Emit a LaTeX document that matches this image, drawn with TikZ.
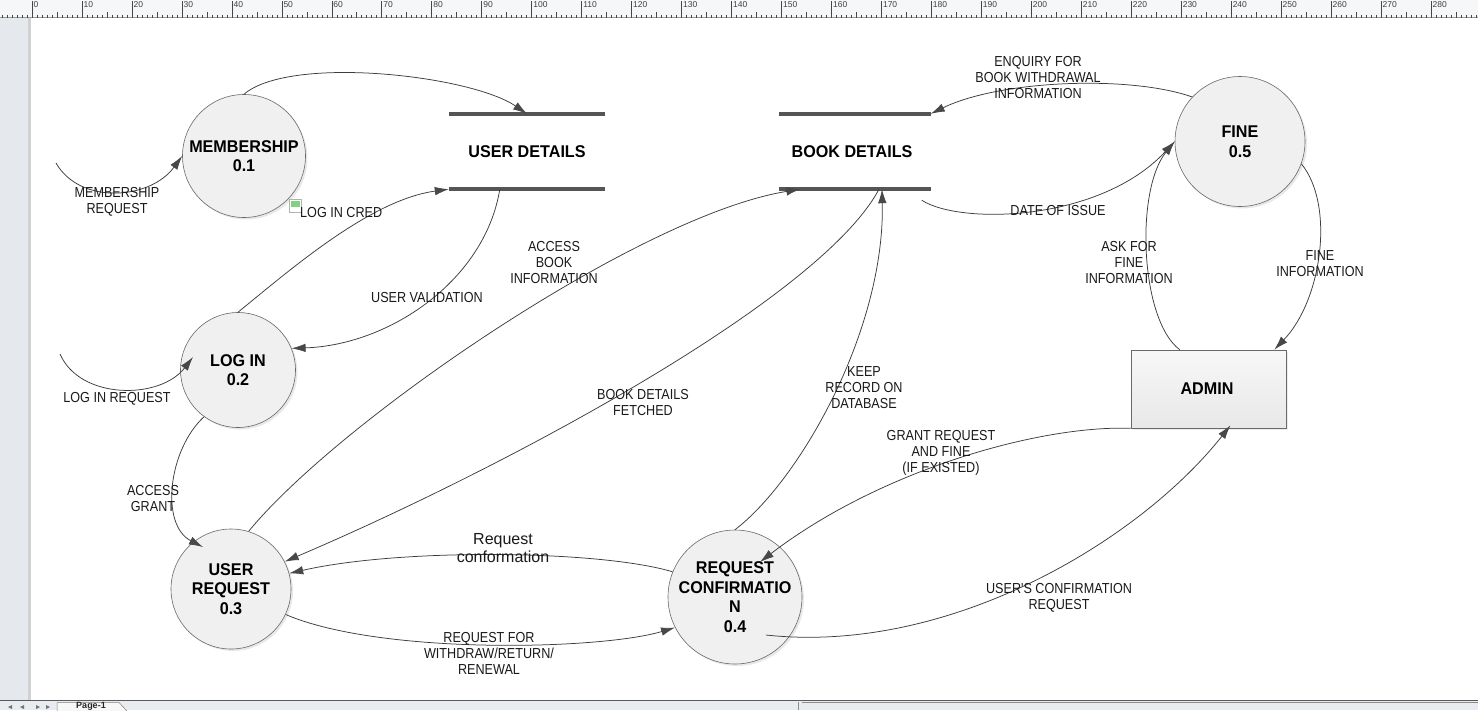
\documentclass[tikz,border=0pt]{standalone}
\usepackage{fontspec}
\setmainfont{Liberation Sans}
\newfontfamily\lblfont{Liberation Sans}[FakeStretch=0.87]
\newfontfamily\ttlfont{Liberation Sans}[FakeStretch=0.95]
\usetikzlibrary{arrows.meta,calc,shadows}
\definecolor{linecol}{RGB}{60,60,60}
\definecolor{tipcol}{RGB}{72,72,72}
\definecolor{storecol}{RGB}{85,85,85}
\definecolor{procfill}{RGB}{240,240,240}
\definecolor{procdraw}{RGB}{105,105,105}
\definecolor{rulercol}{RGB}{246,247,249}
\definecolor{leftcol}{RGB}{229,232,236}
\definecolor{botcol}{RGB}{232,235,239}
\definecolor{tickcol}{RGB}{70,70,70}
\begin{document}
\begin{tikzpicture}[x=1pt,y=-1pt,
  proc/.style={circle, draw=procdraw, line width=0.6pt, fill=procfill, inner sep=-12pt,
    minimum size=123pt, align=center,
    font=\ttlfont\bfseries\fontsize{17}{19.5}\selectfont,
    drop shadow={opacity=0.18, shadow xshift=2pt, shadow yshift=-2pt}},
  ent/.style={rectangle, draw=procdraw, line width=0.6pt, top color=white!97!black, bottom color=white!91!black,
    minimum width=155pt, minimum height=78pt, inner sep=0pt,
    font=\ttlfont\bfseries\fontsize{17}{19.5}\selectfont,
    drop shadow={opacity=0.15, shadow xshift=2pt, shadow yshift=-2pt}},
  store/.style={rectangle, minimum height=75pt, inner sep=0pt,
    font=\ttlfont\bfseries\fontsize{17}{19.5}\selectfont},
  storeline/.style={draw=storecol, line width=3.6pt},
  flow/.style={draw=linecol, line width=0.75pt, -{Latex[length=14pt,width=8.5pt,color=tipcol]}},
  lbl/.style={font=\lblfont\fontsize{14.5}{16}\selectfont, align=center, inner sep=0pt, text=black!90},
  rnum/.style={font=\fontsize{8.5}{9}\selectfont, text=black!75, inner sep=0pt, anchor=north west},
  navtip/.style={fill=black!55}
]
\useasboundingbox (0,0) rectangle (1478,710);
\fill[white] (0,0) rectangle (1478,710);
% ---------- editor chrome ----------
\fill[rulercol] (0,0) rectangle (1478,18);
\draw[black!40, line width=0.6pt] (0,17.7) -- (1478,17.7);
\foreach \i in {-6,...,290} \draw[tickcol, line width=0.5pt] ({32+\i*4.996},14.5) -- ({32+\i*4.996},17.5);
\foreach \i in {5,15,...,285} \draw[tickcol, line width=0.5pt] ({32+\i*4.996},12) -- ({32+\i*4.996},17.5);
\foreach \i in {0,10,...,280} {
  \draw[tickcol, line width=0.5pt] ({32+\i*4.996},1) -- ({32+\i*4.996},17.5);
  \node[rnum] (r\i) at ({33.5+\i*4.996},1.2) {\i};
}
\fill[leftcol] (0,18) rectangle (29,700);
\fill[black!18] (28,18) rectangle (31,700);
\fill[botcol] (0,700) rectangle (1478,710);
\draw[black!65, line width=0.8pt] (0,700.5) -- (1478,700.5);
\fill[navtip] (8,707) -- (12,705) -- (12,709) -- cycle;
\fill[navtip] (20,707) -- (24,705) -- (24,709) -- cycle;
\fill[navtip] (36,705) -- (40,707) -- (36,709) -- cycle;
\fill[navtip] (46,705) -- (50,707) -- (46,709) -- cycle;
\filldraw[fill=white!97!black, draw=black!50, line width=0.5pt] (57,711) -- (57,702.5) -- (119,702.5) -- (127,711);
\node[font=\bfseries\fontsize{9}{10}\selectfont, anchor=north, inner sep=0pt, text=black!85] (pg) at (91,702.3) {Page-1};
\draw[black!45, line width=0.6pt] (798,702) -- (798,710);
\draw[black!45, line width=0.6pt] (802,702) -- (1478,702);
% ---------- nodes ----------
\node[proc] (mem) at (244,156) {MEMBERSHIP\\0.1};
\node[proc, minimum size=115pt] (login) at (238,370) {LOG IN\\0.2};
\node[proc, minimum size=120pt] (ureq) at (231,589) {USER\\REQUEST\\0.3};
\node[proc, minimum size=134pt] (rconf) at (735,597) {REQUEST\\CONFIRMATIO\\N\\0.4};
\node[proc, minimum size=130pt] (fine) at (1240,141.5) {FINE\\0.5};
\node[ent] (admin) at (1208.5,389) {\hspace*{-3pt}ADMIN};
\node[store, minimum width=156pt] (ud) at (527,151.5) {USER DETAILS};
\node[store, minimum width=151pt] (bd) at (855,151.5) {\hspace*{-6pt}BOOK DETAILS};
\draw[storeline] (ud.north west) -- (ud.north east);
\draw[storeline] (ud.south west) -- (ud.south east);
\draw[storeline] (bd.north west) -- (bd.north east);
\draw[storeline] (bd.south west) -- (bd.south east);
\coordinate (mrs) at (56,163);
\coordinate (lrs) at (60,354);
% ---------- connectors ----------
\draw[flow] (mrs) .. controls (80,205) and (150,200) .. (mem.west);
\draw[flow] (mem.north) .. controls (290,55) and (470,75) .. (ud.north);
\draw[flow] (login.north) .. controls (290,270) and (370,200) .. (ud.south west);
\draw[flow] ($(ud.south west)+(51,0)$) .. controls (485,280) and (390,345) .. (login.22);
\draw[flow] (lrs) .. controls (80,400) and (160,400) .. ($(login.center)+(-45,-13)$);
\draw[flow] (login.234) .. controls (168,450) and (160,525) .. ($(ureq.center)+(-28,-42)$);
\draw[flow] (ureq.73) .. controls (340,420) and (640,215) .. ($(bd.south west)+(21,0)$);
\draw[flow] ($(bd.south)+(24,0)$) .. controls (820,300) and (500,470) .. (ureq.27);
\draw[flow] (rconf.north) .. controls (800,480) and (885,330) .. ($(bd.south)+(27,0)$);
\draw[flow] (rconf.158) .. controls (600,550) and (400,548) .. (ureq.15);
\draw[flow] (ureq.-25) .. controls (380,655) and (600,650) .. (rconf.207);
\draw[flow] (admin.south west) .. controls (1040,425) and (880,470) .. ($(rconf.center)+(25,-35)$);
\draw[flow] ($(rconf.center)+(31,38)$) .. controls (950,655) and (1140,540) .. ($(admin.south)+(22,-3)$);
\draw[flow] (fine.137) .. controls (1130,75) and (1000,80) .. (bd.north east);
\draw[flow] ($(bd.south east)+(-9,11)$) .. controls (960,225) and (1100,222) .. (fine.west);
\draw[flow] ($(admin.north west)+(49,0)$) .. controls (1140,320) and (1135,190) .. (fine.west);
\draw[flow] (fine.-20) .. controls (1335,205) and (1322,300) .. ($(admin.north east)+(-12,0)$);
% ---------- labels ----------
\node[lbl] (l1) at (117,202) {MEMBERSHIP\\REQUEST};
\node[draw=black!30, fill=white, line width=0.5pt, minimum width=12pt, minimum height=13pt, inner sep=0pt] (icon) at (295,205.5) {};
\fill[green!65!black!50] (290.5,201) rectangle (299.5,207);
\node[lbl, anchor=west] (l2) at (300,213) {LOG IN CRED};
\node[lbl] (l3) at (427,298) {USER VALIDATION};
\node[lbl] (l4) at (117,399) {LOG IN REQUEST};
\node[lbl] (l5) at (153,498) {ACCESS\\GRANT};
\node[lbl] (l6) at (554,263) {ACCESS\\BOOK\\INFORMATION};
\node[lbl] (l7) at (643,403) {BOOK DETAILS\\FETCHED};
\node[lbl] (l8) at (864,388) {KEEP\\RECORD ON\\DATABASE};
\node[lbl, font=\fontsize{16}{18}\selectfont] (l9) at (503,548) {Request\\conformation};
\node[lbl] (l10) at (489,653) {REQUEST FOR\\WITHDRAW/RETURN/\\RENEWAL};
\node[lbl] (l11) at (941,453) {GRANT REQUEST\\AND FINE\\(IF EXISTED)};
\node[lbl] (l12) at (1059,598) {USER'S CONFIRMATION\\REQUEST};
\node[lbl] (l13) at (1038,78) {ENQUIRY FOR\\BOOK WITHDRAWAL\\INFORMATION};
\node[lbl] (l14) at (1058,211) {DATE OF ISSUE};
\node[lbl] (l15) at (1129,263) {ASK FOR\\FINE\\INFORMATION};
\node[lbl] (l16) at (1320,264) {FINE\\INFORMATION};
\end{tikzpicture}
\end{document}
